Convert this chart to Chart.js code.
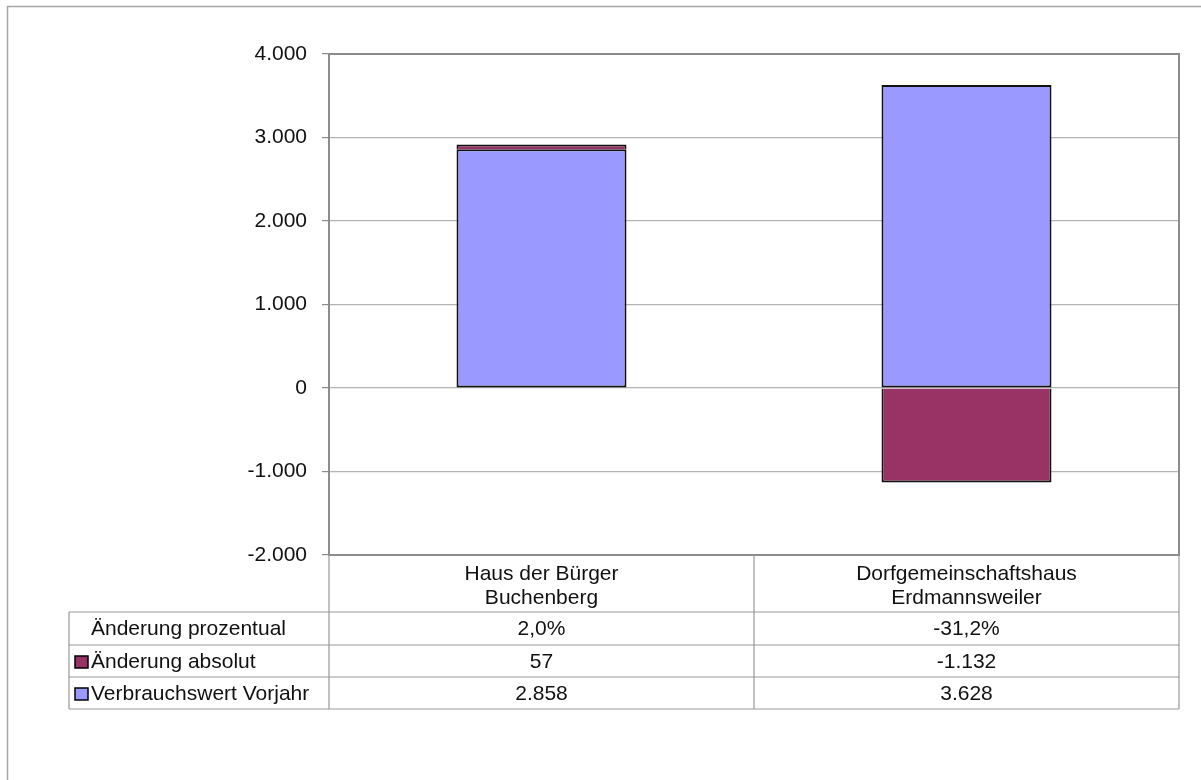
<!DOCTYPE html>
<html>
<head>
<meta charset="utf-8">
<script src="https://cdn.jsdelivr.net/npm/chart.js@4"></script>
<style>
  html, body { margin: 0; padding: 0; background: #ffffff; }
  #wrap { width: 1201px; height: 780px; position: relative; }
  canvas { display: block; }
</style>
</head>
<body>
<div id="wrap"><canvas id="c" width="1201" height="780"></canvas></div>
<script>
// ---- data ----
const categories = [["Haus der Bürger", "Buchenberg"], ["Dorfgemeinschaftshaus", "Erdmannsweiler"]];
const verbrauchVorjahr = [2858, 3628];
const aenderungAbsolut = [57, -1132];
const aenderungProzent = [2.0, -31.2];
const yTickValues = [-2000, -1000, 0, 1000, 2000, 3000, 4000];
const seriesNames = ["Änderung prozentual", "Änderung absolut", "Verbrauchswert Vorjahr"];
const colorVorjahr = "#9999FF";
const colorAbsolut = "#993366";

const FONT = '"Liberation Sans", Arial, sans-serif';
const FSIZE = 21;

function fmtInt(v) {
  const neg = v < 0;
  let s = String(Math.abs(Math.round(v)));
  s = s.replace(/\B(?=(\d{3})+(?!\d))/g, ".");
  return (neg ? "-" : "") + s;
}
function fmtPct(v) {
  return v.toFixed(1).replace(".", ",") + "%";
}

const tablePlugin = {
  id: "tablePlugin",
  afterDraw(chart) {
    const ctx = chart.ctx;
    const a = chart.chartArea;
    const xs = chart.scales.x;
    const c0 = xs.getPixelForValue(0), c1 = xs.getPixelForValue(1);
    const mid = (c0 + c1) / 2;
    const tableLeft = 69;
    const rowLines = [612, 645, 677, 709];
    ctx.save();
    // outer frame
    ctx.strokeStyle = "#a6a6a6";
    ctx.lineWidth = 1.5;
    ctx.beginPath();
    ctx.moveTo(7.5, 781); ctx.lineTo(7.5, 6.5); ctx.lineTo(1202, 6.5);
    ctx.stroke();
    // plot border
    ctx.strokeStyle = "#8c8c8c";
    ctx.lineWidth = 2;
    ctx.strokeRect(a.left, a.top, a.right - a.left, a.bottom - a.top);
    // table lines
    ctx.strokeStyle = "#999999";
    ctx.lineWidth = 1.2;
    ctx.beginPath();
    rowLines.forEach(y => { ctx.moveTo(tableLeft, y); ctx.lineTo(a.right, y); });
    ctx.moveTo(tableLeft, rowLines[0]); ctx.lineTo(tableLeft, rowLines[3]);
    ctx.moveTo(a.left, a.bottom); ctx.lineTo(a.left, rowLines[3]);
    ctx.moveTo(mid, a.bottom); ctx.lineTo(mid, rowLines[3]);
    ctx.moveTo(a.right, a.bottom); ctx.lineTo(a.right, rowLines[3]);
    ctx.stroke();
    // text
    ctx.fillStyle = "#111111";
    ctx.font = FSIZE + "px " + FONT;
    ctx.textBaseline = "middle";
    ctx.textAlign = "center";
    const centers = [c0, c1];
    categories.forEach((lines, i) => {
      lines.forEach((ln, j) => ctx.fillText(ln, centers[i], 574 + j * 24));
    });
    const rowMid = [0, 1, 2].map(r => (rowLines[r] + rowLines[r + 1]) / 2 + 1);
    const rows = [aenderungProzent.map(fmtPct), aenderungAbsolut.map(fmtInt), verbrauchVorjahr.map(fmtInt)];
    rows.forEach((vals, r) => {
      vals.forEach((v, i) => ctx.fillText(v, centers[i], rowMid[r]));
    });
    ctx.textAlign = "left";
    const boxColors = [null, colorAbsolut, colorVorjahr];
    seriesNames.forEach((name, r) => {
      if (boxColors[r]) {
        ctx.fillStyle = boxColors[r];
        ctx.fillRect(75, rowMid[r] - 6, 13, 12);
        ctx.strokeStyle = "#000";
        ctx.lineWidth = 1.5;
        ctx.strokeRect(75, rowMid[r] - 6, 13, 12);
      }
      ctx.fillStyle = "#111111";
      ctx.fillText(name, 91, rowMid[r]);
    });
    ctx.restore();
  }
};

new Chart(document.getElementById("c"), {
  type: "bar",
  data: {
    labels: categories,
    datasets: [
      { label: seriesNames[2], data: verbrauchVorjahr, backgroundColor: colorVorjahr, borderColor: "#111", borderWidth: 2, borderSkipped: false, inflateAmount: 0 },
      { label: seriesNames[1], data: aenderungAbsolut, backgroundColor: colorAbsolut, borderColor: "#111", borderWidth: 2, borderSkipped: "start", inflateAmount: 0 }
    ]
  },
  options: {
    responsive: false,
    animation: false,
    devicePixelRatio: 1,
    layout: { padding: { top: 54, right: 22, bottom: 225, left: 0 } },
    plugins: { legend: { display: false }, tooltip: { enabled: false } },
    datasets: { bar: { categoryPercentage: 1, barPercentage: 0.4 } },
    scales: {
      x: { stacked: true, display: false },
      y: {
        stacked: true,
        min: -2000, max: 4000,
        afterBuildTicks(scale) { scale.ticks = yTickValues.map(v => ({ value: v })); },
        afterFit(scale) { scale.width = 329; },
        ticks: {
          callback: v => fmtInt(v),
          color: "#111111",
          font: { family: FONT, size: FSIZE },
          padding: 15
        },
        grid: { color: "#b3b3b3", lineWidth: 1.2, drawTicks: true, tickLength: 7, tickColor: "#8c8c8c" },
        border: { display: true, color: "#8c8c8c", width: 2 }
      }
    }
  },
  plugins: [tablePlugin]
});
</script>
</body>
</html>
